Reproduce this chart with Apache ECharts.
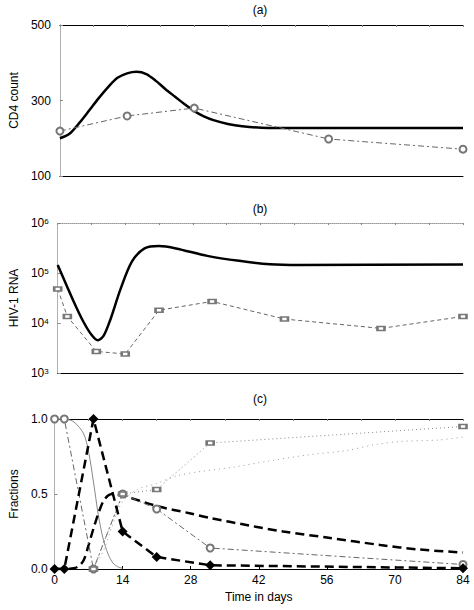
<!DOCTYPE html>
<html>
<head>
<meta charset="utf-8">
<script src="https://cdn.jsdelivr.net/npm/echarts@6/dist/echarts.min.js"></script>
<style>
  html, body { margin: 0; padding: 0; background: #fff; }
  #chart { width: 474px; height: 610px; }
</style>
</head>
<body>
<div id="chart"></div>
<script>
// x axis (days)
var dayTicks = [0, 14, 28, 42, 56, 70, 84];

// (a) CD4 count
var cd4ModelDays = [0, 2, 4, 6, 8, 10, 12, 14, 16, 18, 20, 22, 24, 26, 28, 30, 32, 35, 38, 42, 50, 60, 84];
var cd4Model = [200, 212, 240, 272, 305, 335, 360, 372, 376, 370, 352, 330, 310, 290, 272, 258, 248, 238, 232, 228, 227, 227, 227];
var cd4DataDays = [0, 14, 28, 56, 84];
var cd4Data = [219, 259, 280, 198, 171];

// (b) HIV-1 RNA
var rnaModelDays = [0, 2, 3.3, 5.3, 7, 8.3, 9.5, 11, 13, 15.4, 18, 21, 24.5, 31, 37.6, 44, 50, 84];
var rnaModel = [145000, 52000, 27000, 10700, 5800, 4500, 5500, 12300, 47000, 170000, 310000, 345000, 310000, 220000, 175000, 150000, 145000, 148000];
var rnaDataDays = [0, 2, 8, 14, 21, 32, 47, 67, 84];
var rnaData = [48000, 13500, 2700, 2400, 18000, 27000, 12000, 7800, 13500];

// (c) Fractions
var diamondDays = [0, 2, 8, 14, 21, 32, 84];
var diamondData = [0, 0, 1, 0.25, 0.08, 0.025, 0.005];
var heavyModelDays = [0, 2, 4, 5, 6, 7, 8, 9, 10, 11, 12, 14, 21, 28, 32, 40, 47, 56, 67, 75, 84];
var heavyModel = [0, 0, 0.005, 0.02, 0.06, 0.16, 0.27, 0.37, 0.45, 0.49, 0.5, 0.49, 0.42, 0.37, 0.34, 0.29, 0.25, 0.21, 0.16, 0.13, 0.11];
var circleDays = [0, 2, 8, 14, 21, 32, 84];
var circleData = [1, 1, 0, 0.5, 0.4, 0.14, 0.03];
var circleModelDays = [0, 2, 4, 6, 7, 8, 9, 10, 11, 12, 13, 14];
var circleModel = [1, 1, 0.98, 0.9, 0.78, 0.58, 0.36, 0.2, 0.1, 0.04, 0.015, 0.005];
var squareDays = [8, 14, 21, 32, 84];
var squareData = [0, 0.5, 0.53, 0.84, 0.95];
var squareModelDays = [6, 8, 10, 12, 14, 17, 21, 25, 30, 37, 44, 52, 60, 66, 71, 79, 84];
var squareModel = [0, 0.02, 0.12, 0.3, 0.45, 0.53, 0.57, 0.62, 0.65, 0.68, 0.72, 0.76, 0.79, 0.83, 0.85, 0.86, 0.88];

var FONT = 'Liberation Sans';

function pairs(xs, ys) {
    var out = [];
    for (var i = 0; i < xs.length; i++) out.push([xs[i], ys[i]]);
    return out;
}

var grids = [
    { left: 47, right: 11, top: 25, height: 151 },
    { left: 47, right: 11, top: 223, height: 150 },
    { left: 47, right: 11, top: 419, height: 150 }
];

var xAxes = [];
var yAxes = [];
for (var g = 0; g < 3; g++) {
    // bottom axis
    xAxes.push({
        type: 'value', gridIndex: g, min: 0, max: 84, interval: 14,
        axisLine: { show: true, onZero: false, lineStyle: { color: '#000', width: 1 } },
        axisTick: { show: g === 2, inside: true, length: 3, lineStyle: { color: '#000' } },
        axisLabel: { show: g === 2, color: '#000', fontFamily: FONT, fontSize: 12, margin: 5 },
        splitLine: { show: false },
        name: g === 2 ? 'Time in days' : '',
        nameLocation: 'middle', nameGap: 22,
        nameTextStyle: { color: '#000', fontFamily: FONT, fontSize: 12 }
    });
    // top frame line
    xAxes.push({
        type: 'value', gridIndex: g, min: 0, max: 84, interval: 7, position: 'top',
        axisLine: { show: true, onZero: false, lineStyle: { color: g === 1 ? '#999' : '#000', width: 1, type: g === 1 ? 'dotted' : 'solid' } },
        axisTick: { show: true, inside: true, length: 2, lineStyle: { color: '#888' } },
        axisLabel: { show: false }, splitLine: { show: false }
    });
}

var yNames = ['CD4 count', 'HIV-1 RNA', 'Fractions'];
yAxes.push({
    type: 'value', gridIndex: 0, min: 100, max: 500, interval: 200,
    axisLabel: { color: '#000', fontFamily: FONT, fontSize: 12, margin: 9 }
});
yAxes.push({
    type: 'log', gridIndex: 1, logBase: 10, min: 1000, max: 1000000,
    axisLabel: {
        color: '#000', fontFamily: FONT, fontSize: 12, margin: 9,
        formatter: function (v) {
            return '10{e|' + Math.round(Math.log10(v)) + '}';
        },
        rich: { e: { fontSize: 8, fontFamily: FONT, color: '#000', verticalAlign: 'top', lineHeight: 8, padding: [0, 0, 7, 0] } }
    }
});
yAxes.push({
    type: 'value', gridIndex: 2, min: 0, max: 1, interval: 0.5,
    axisLabel: { color: '#000', fontFamily: FONT, fontSize: 12, margin: 7, formatter: function (v) { return v.toFixed(1); } }
});
for (var k = 0; k < 3; k++) {
    var y = yAxes[k];
    y.axisLine = { show: true, lineStyle: { color: '#aaa', type: 'dotted', width: 1 } };
    y.axisTick = { show: true, inside: true, length: 3, lineStyle: { color: '#888' } };
    y.splitLine = { show: false };
    y.name = yNames[k];
    y.nameLocation = 'middle';
    y.nameGap = 34;
    y.nameTextStyle = { color: '#000', fontFamily: FONT, fontSize: 12 };
}
for (var k2 = 0; k2 < 3; k2++) {
    yAxes.push({
        type: k2 === 1 ? 'log' : 'value', gridIndex: k2, position: 'right',
        min: yAxes[k2].min, max: yAxes[k2].max, interval: yAxes[k2].interval,
        axisLine: { show: true, lineStyle: { color: '#aaa', type: 'dotted', width: 1 } },
        axisTick: { show: false }, axisLabel: { show: false }, splitLine: { show: false }
    });
}

function model(name, xi, yi, data, style) {
    return {
        type: 'line', name: name, xAxisIndex: xi, yAxisIndex: yi, data: data,
        showSymbol: false, symbol: 'none', smooth: 0.3,
        lineStyle: style, silent: true, z: 3
    };
}
function observed(name, xi, yi, data, style, symbol, size, item) {
    return {
        type: 'line', name: name, xAxisIndex: xi, yAxisIndex: yi, data: data,
        symbol: symbol, symbolSize: size, showSymbol: true,
        lineStyle: style, itemStyle: item, silent: true, z: 4
    };
}

var grayThin = { color: '#666', width: 1, type: [6, 3, 2, 3] };
var emptyGray = { color: '#777', borderWidth: 1 };

var titleStyle = { fontSize: 12, fontWeight: 'normal', color: '#000', fontFamily: FONT };

var option = {
    animation: false,
    backgroundColor: '#fff',
    textStyle: { fontFamily: FONT },
    title: [
        { text: '(a)', left: 255, top: -1, textAlign: 'center', textStyle: titleStyle },
        { text: '(b)', left: 255, top: 198, textAlign: 'center', textStyle: titleStyle },
        { text: '(c)', left: 255, top: 388, textAlign: 'center', textStyle: titleStyle }
    ],
    grid: grids,
    xAxis: xAxes,
    yAxis: yAxes,
    series: [
        // (a)
        model('CD4 model', 0, 0, pairs(cd4ModelDays, cd4Model), { color: '#000', width: 2.5 }),
        observed('CD4 data', 0, 0, pairs(cd4DataDays, cd4Data), grayThin, 'emptyCircle', 7, emptyGray),
        // (b)
        model('RNA model', 2, 1, pairs(rnaModelDays, rnaModel), { color: '#000', width: 2.5 }),
        observed('RNA data', 2, 1, pairs(rnaDataDays, rnaData), { color: '#666', width: 1, type: [4, 3] }, 'emptyRect', [7, 4], emptyGray),
        // (c)
        model('Circle model', 4, 2, pairs(circleModelDays, circleModel), { color: '#888', width: 1 }),
        model('Square model', 4, 2, pairs(squareModelDays, squareModel), { color: '#999', width: 1, type: [1, 4] }),
        observed('Circle data', 4, 2, pairs(circleDays, circleData), grayThin, 'emptyCircle', 7, emptyGray),
        observed('Square data', 4, 2, pairs(squareDays, squareData), { color: '#888', width: 1, type: [1, 3] }, 'emptyRect', [7, 4], emptyGray),
        model('Heavy model', 4, 2, pairs(heavyModelDays, heavyModel), { color: '#000', width: 2.5, type: [9, 5] }),
        observed('Diamond data', 4, 2, pairs(diamondDays, diamondData), { color: '#000', width: 2.5, type: [9, 5] }, 'diamond', 10, { color: '#000' })
    ]
};

var chart = echarts.init(document.getElementById('chart'), null, { renderer: 'svg' });
chart.setOption(option);
</script>
</body>
</html>
